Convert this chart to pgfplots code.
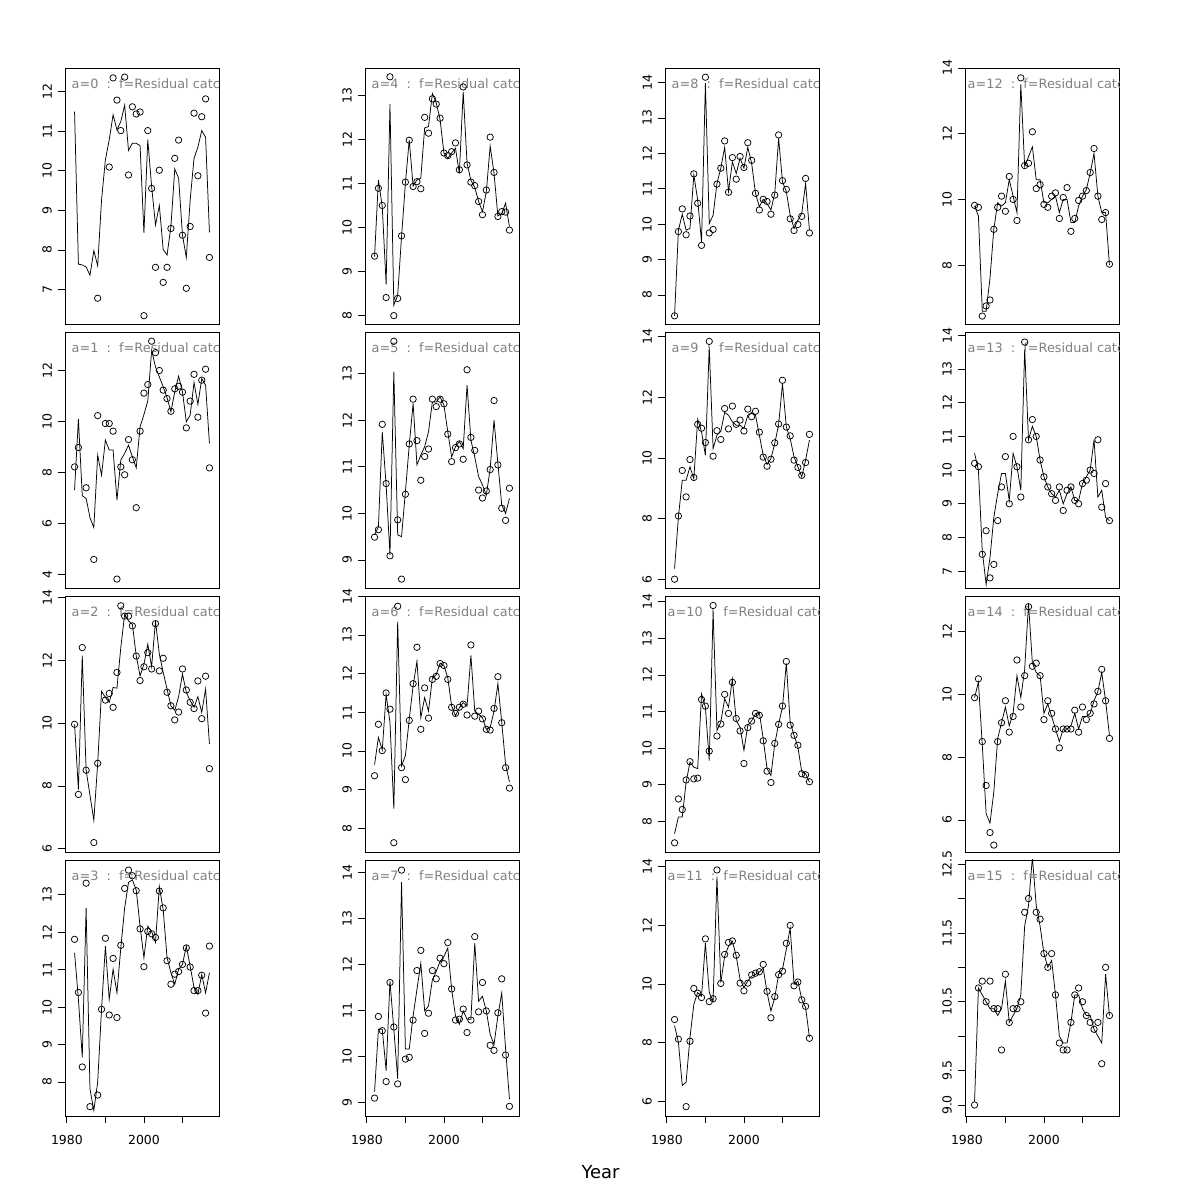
\documentclass[border=0pt]{standalone}
\usepackage{fontspec}
\setmainfont{DejaVu Sans}
\usepackage{pgfplots}
\pgfplotsset{compat=1.18}
\usepackage{pgfplotstable}

\pgfplotstableread{
year l0 l1 l2 l3 l4 l5 l6 l7 l8 l9 l10 l11 l12 l13 l14 l15
1982 11.49 7.30 9.96 11.45 9.34 9.54 9.65 9.23 7.41 6.36 7.66 8.58 9.80 10.5 9.9 9.05
1983 7.64 10.08 7.88 10.21 11.08 9.71 10.35 10.59 9.83 8.06 8.12 8.01 9.50 10.0 10.4 10.7
1984 7.62 7.08 12.14 8.66 10.47 11.75 10.03 10.59 10.28 9.27 8.12 6.54 6.60 7.6 8.4 10.6
1985 7.57 6.97 8.50 12.65 8.71 10.61 11.46 9.69 9.83 9.27 9.07 6.66 6.60 6.6 6.2 10.5
1986 7.36 6.22 7.70 7.81 12.80 9.11 10.74 11.64 9.88 9.71 9.62 8.18 7.60 7.4 5.9 10.4
1987 7.98 5.83 6.91 7.24 8.24 13.04 8.51 10.59 11.39 9.32 9.48 9.31 9.10 8.6 6.9 10.4
1988 7.60 8.67 8.71 7.99 8.46 9.54 13.34 9.51 10.68 11.28 9.44 9.71 9.90 9.3 8.6 10.3
1989 9.26 7.89 11.01 9.94 9.79 9.50 9.62 13.80 9.50 10.86 11.48 9.59 9.80 9.9 9.1 10.4
1990 10.27 9.26 10.82 11.63 11.00 10.46 9.88 10.16 13.98 10.09 11.12 11.40 9.90 9.9 9.6 10.8
1991 10.78 8.87 10.66 10.21 11.99 11.46 10.82 10.16 10.02 13.66 9.66 9.71 10.60 9.1 9.0 10.2
1992 11.41 8.87 11.13 11.01 10.94 12.36 11.68 10.88 10.25 10.31 13.75 9.42 10.10 10.5 9.4 10.3
1993 11.03 6.91 11.11 10.38 11.08 11.04 12.32 11.46 11.15 10.75 10.48 13.66 9.60 10.1 10.6 10.4
1994 11.24 8.48 12.40 11.58 11.12 11.25 10.86 12.03 11.58 10.88 10.71 10.05 13.50 9.4 9.9 10.6
1995 11.65 8.74 13.46 12.65 12.26 11.43 11.38 10.99 12.17 11.50 11.35 10.95 11.00 13.6 10.8 11.6
1996 10.51 9.06 13.25 13.33 12.29 11.75 11.03 11.10 10.92 11.41 11.12 11.29 11.30 10.9 12.9 11.9
1997 10.69 8.61 13.14 13.40 13.04 12.39 11.89 11.67 11.76 11.19 11.89 11.46 11.60 11.3 11.0 12.6
1998 10.69 8.17 12.14 13.13 12.83 12.39 11.97 11.85 11.43 11.08 10.75 10.95 10.60 11.0 10.7 11.9
1999 10.63 9.78 11.50 12.16 12.45 12.50 12.27 12.07 11.86 11.08 10.57 10.16 10.60 10.3 10.6 11.6
2000 8.43 10.26 11.87 11.32 11.69 12.32 12.21 12.18 11.58 10.97 9.94 9.88 9.90 9.8 9.4 11.2
2001 10.78 10.79 12.51 12.16 11.57 11.75 11.89 12.36 12.17 11.41 10.62 10.10 9.90 9.5 9.7 11.0
2002 9.60 12.78 11.79 12.02 11.69 11.21 11.16 11.46 11.72 11.50 10.75 10.27 10.00 9.3 9.3 11.1
2003 8.63 12.13 13.25 11.73 11.80 11.43 10.91 10.88 10.87 11.41 10.94 10.33 10.10 9.2 8.9 10.6
2004 9.12 11.74 12.19 13.22 11.23 11.54 11.12 10.70 10.49 10.75 10.98 10.41 9.60 9.4 8.5 10.0
2005 8.01 11.35 11.61 12.60 13.08 11.39 11.25 10.99 10.70 10.09 10.25 10.55 10.00 9.0 8.9 9.9
2006 7.87 10.92 11.08 11.32 11.46 12.75 11.16 10.81 10.58 9.79 9.44 9.71 10.00 9.3 8.9 9.9
2007 8.59 10.37 10.55 10.92 11.07 11.57 12.47 10.81 10.40 9.98 9.25 9.08 9.30 9.5 9.0 10.2
2008 10.04 11.15 10.40 10.61 10.91 11.21 11.03 12.47 10.87 10.48 10.12 9.54 9.30 9.1 9.4 10.6
2009 9.81 11.77 10.84 11.01 10.59 10.79 10.95 11.20 12.42 11.10 10.66 10.33 9.80 9.1 8.9 10.6
2010 8.37 11.15 11.56 11.14 10.36 10.61 10.86 11.31 11.20 12.45 11.12 10.50 10.10 9.6 9.3 10.4
2011 7.81 9.98 10.98 11.63 10.81 10.39 10.56 10.99 10.92 11.02 12.32 11.18 10.30 9.8 9.3 10.3
2012 9.26 10.24 10.71 11.09 11.85 10.96 10.61 10.48 10.25 10.64 10.71 11.91 10.80 10.0 9.4 10.3
2013 10.31 11.52 10.50 10.52 11.23 12.00 11.03 10.26 9.88 10.04 10.35 9.99 11.40 10.9 9.8 10.1
2014 10.59 10.66 10.84 10.34 10.26 11.07 11.74 10.88 10.11 9.71 10.03 10.10 10.10 9.2 10.1 10.0
2015 11.01 11.67 10.34 10.87 10.32 10.18 10.74 11.38 10.30 9.38 9.35 9.48 9.60 9.4 10.7 9.9
2016 10.84 11.41 11.08 10.38 10.55 10.00 9.65 10.16 11.15 9.93 9.30 9.20 9.60 8.6 9.8 10.9
2017 8.44 9.13 9.34 10.92 10.02 10.32 9.20 9.07 9.83 10.59 9.07 8.18 8.00 8.5 8.7 10.3
}\fitted

\pgfplotstableread{
year p0 p1 p2 p3 p4 p5 p6 p7 p8 p9 p10 p11 p12 p13 p14 p15
1982 nan 8.21 9.96 11.81 9.35 9.49 9.36 9.09 7.41 6.01 7.41 8.79 9.82 10.2 9.9 9.0
1983 nan 8.97 7.73 10.39 10.89 9.65 10.69 10.87 9.79 8.09 8.61 8.12 9.76 10.1 10.5 10.7
1984 nan nan 12.40 8.40 10.50 11.91 10.01 10.56 10.43 9.59 8.32 nan 6.45 7.5 8.5 10.8
1985 nan 7.39 8.50 13.31 8.41 10.64 11.50 9.45 9.70 8.72 9.13 5.82 6.76 8.2 7.1 10.5
1986 nan nan nan 7.34 13.42 9.09 11.08 11.61 10.23 9.95 9.63 8.05 6.94 6.8 5.6 10.8
1987 nan 4.58 6.20 nan 8.00 13.69 7.63 10.64 11.42 9.36 9.16 9.85 9.09 7.2 5.2 10.4
1988 6.78 10.22 8.72 7.65 8.39 9.86 13.74 9.40 10.59 11.11 9.18 9.69 9.76 8.5 8.5 10.4
1989 nan nan nan 9.94 9.81 8.59 9.57 14.06 9.40 10.98 11.33 9.54 10.10 9.5 9.1 9.8
1990 nan 9.91 10.73 11.84 11.03 10.41 9.26 9.94 14.15 10.51 11.15 11.54 9.64 10.4 9.8 10.9
1991 10.09 9.91 10.94 9.79 11.98 11.49 10.79 9.98 9.75 13.84 9.92 9.40 10.70 9.0 8.8 10.2
1992 12.34 9.61 10.50 11.30 10.93 12.45 11.74 10.79 9.85 10.06 13.90 9.50 10.00 11.0 9.3 10.4
1993 11.78 3.81 11.61 9.72 11.04 11.56 12.68 11.87 11.13 10.90 10.33 13.89 9.36 10.1 11.1 10.4
1994 11.01 8.21 13.73 11.65 10.88 10.71 10.56 12.31 11.58 10.61 10.66 10.02 13.70 9.2 9.6 10.5
1995 12.36 7.90 13.40 13.17 12.50 11.22 11.63 10.50 12.35 11.63 11.47 11.01 11.03 13.8 10.6 11.8
1996 9.89 9.28 13.40 13.66 12.14 11.38 10.85 10.94 10.90 10.96 10.95 11.42 11.10 10.9 12.8 12.0
1997 11.61 8.49 13.09 13.51 12.92 12.45 11.85 11.87 11.88 11.71 11.80 11.47 12.06 11.5 10.9 12.6
1998 11.43 6.61 12.13 13.11 12.80 12.29 11.93 11.69 11.27 11.11 10.81 10.98 10.33 11.0 11.0 11.8
1999 11.48 9.61 11.35 12.09 12.48 12.45 12.26 12.14 11.91 11.25 10.47 10.03 10.45 10.3 10.6 11.7
2000 6.34 11.10 11.79 11.08 11.69 12.35 12.21 12.02 11.60 10.89 9.58 9.77 9.85 9.8 9.2 11.2
2001 11.01 11.44 12.24 12.02 11.63 11.70 11.85 12.48 12.30 11.61 10.56 10.03 9.76 9.5 9.8 11.0
2002 9.55 13.14 11.72 11.96 11.72 11.11 11.13 11.47 11.80 11.36 10.74 10.31 10.10 9.3 9.4 11.2
2003 7.56 12.69 13.16 11.86 11.92 11.41 10.97 10.79 10.87 11.54 10.95 10.37 10.20 9.1 8.9 10.6
2004 10.01 11.99 11.66 13.10 11.31 11.49 11.13 10.81 10.40 10.85 10.90 10.42 9.42 9.5 8.3 9.9
2005 7.18 11.22 12.06 12.65 13.19 11.16 11.21 11.03 10.70 10.03 10.20 10.67 10.06 8.8 8.9 9.8
2006 7.56 10.89 10.98 11.24 11.42 13.08 10.93 10.52 10.64 9.73 9.37 9.75 10.36 9.4 8.9 9.8
2007 8.54 10.39 10.55 10.61 11.03 11.63 12.74 10.79 10.28 9.96 9.06 8.85 9.03 9.5 8.9 10.2
2008 10.31 11.27 10.10 10.88 10.95 11.35 10.90 12.61 10.82 10.50 10.13 9.57 9.42 9.1 9.5 10.6
2009 10.77 11.37 10.35 10.95 10.59 10.50 11.03 10.97 12.52 11.12 10.65 10.32 9.97 9.0 8.8 10.7
2010 8.37 11.14 11.72 11.14 10.29 10.33 10.83 11.61 11.23 12.56 11.15 10.44 10.10 9.6 9.6 10.5
2011 7.03 9.74 11.05 11.58 10.85 10.48 10.56 10.99 10.98 11.02 12.37 11.39 10.27 9.7 9.2 10.3
2012 8.59 10.79 10.66 11.07 12.05 10.94 10.54 10.24 10.15 10.73 10.63 12.00 10.82 10.0 9.4 10.2
2013 11.45 11.84 10.46 10.44 11.25 12.42 11.10 10.13 9.82 9.93 10.35 9.94 11.55 9.9 9.7 10.1
2014 9.87 10.16 11.34 10.44 10.25 11.04 11.92 10.95 9.99 9.69 10.08 10.07 10.10 10.9 10.1 10.2
2015 11.36 11.61 10.14 10.85 10.36 10.11 10.73 11.69 10.22 9.43 9.30 9.46 9.39 8.9 10.8 9.6
2016 11.81 12.04 11.49 9.84 10.35 9.85 9.57 10.03 11.29 9.85 9.27 9.24 9.60 9.6 9.8 11.0
2017 7.81 8.17 8.55 11.63 9.94 10.54 9.04 8.91 9.75 10.78 9.08 8.15 8.03 8.5 8.6 10.3
}\observed

\pgfplotsset{
  panel/.style={
    scale only axis, width=154bp, height=256bp, anchor=south west,
    xmin=1979.52, xmax=2019.48,
    axis line style={black, line width=0.75bp},
    every tick/.style={black, line width=0.75bp},
    tick align=outside, major tick length=7bp,
    xtick=\empty, ytick pos=left,
    yticklabel style={xshift=-6bp, rotate=90, anchor=south, inner sep=0pt, font=\fontsize{12.5}{12.5}\selectfont},
    xticklabel style={yshift=-9bp, font=\fontsize{12.5}{12.5}\selectfont},
    /pgf/number format/assume math mode=true,
  },
  bottomrow/.style={xtick={1980,1990,2000,2010}, xticklabels={1980,,2000,}, xtick pos=bottom},
  fitline/.style={black, line width=0.75bp, no marks},
  obspts/.style={black, only marks, mark=o, mark size=3.2bp, mark options={line width=0.75bp}},
}
\newcommand{\panellabel}[2]{%
  \begin{scope}
  \clip (rel axis cs:0,0) rectangle (rel axis cs:1,1);
  \node[anchor=west, inner sep=0pt, text=gray, font=\fontsize{12.9}{12.9}\selectfont, xshift=#2, yshift=-16bp] at (rel axis cs:0,1) {a=#1\ \ :\ \ f=Residual catch};
  \end{scope}}
\newcommand{\panelplots}[1]{%
  \addplot[fitline] table[x=year, y=l#1] {\fitted};
  \addplot[obspts] table[x=year, y=p#1] {\observed};
}

\begin{document}
\begin{tikzpicture}
\path (0bp,0bp) rectangle (1200bp,1200bp);

% column 1
\begin{axis}[panel, at={(65bp,876bp)}, ymin=6.13, ymax=12.59, ytick={7,8,9,10,11,12}]
\panelplots{0}\panellabel{0}{6.5bp}
\end{axis}
\begin{axis}[panel, at={(65bp,612bp)}, ymin=3.46, ymax=13.50, ytick={4,6,8,10,12}]
\panelplots{1}\panellabel{1}{6.5bp}
\end{axis}
\begin{axis}[panel, at={(65bp,348bp)}, ymin=5.90, ymax=14.04, ytick={6,8,10,12,14}]
\panelplots{2}\panellabel{2}{6.5bp}
\end{axis}
\begin{axis}[panel, bottomrow, at={(65bp,84bp)}, ymin=7.09, ymax=13.93, ytick={8,9,10,11,12,13}]
\panelplots{3}\panellabel{3}{6.5bp}
\end{axis}

% column 2
\begin{axis}[panel, at={(365bp,876bp)}, ymin=7.81, ymax=13.62, ytick={8,9,10,11,12,13}]
\panelplots{4}\panellabel{4}{6.5bp}
\end{axis}
\begin{axis}[panel, at={(365bp,612bp)}, ymin=8.40, ymax=13.89, ytick={9,10,11,12,13}]
\panelplots{5}\panellabel{5}{6.5bp}
\end{axis}
\begin{axis}[panel, at={(365bp,348bp)}, ymin=7.39, ymax=14.005, ytick={8,9,10,11,12,13,14}]
\panelplots{6}\panellabel{6}{6.5bp}
\end{axis}
\begin{axis}[panel, bottomrow, at={(365bp,84bp)}, ymin=8.70, ymax=14.28, ytick={9,10,11,12,13,14}]
\panelplots{7}\panellabel{7}{6.5bp}
\end{axis}

% column 3
\begin{axis}[panel, at={(665bp,876bp)}, ymin=7.18, ymax=14.41, ytick={8,9,10,11,12,13,14}]
\panelplots{8}\panellabel{8}{6.5bp}
\end{axis}
\begin{axis}[panel, at={(665bp,612bp)}, ymin=5.72, ymax=14.15, ytick={6,8,10,12,14}]
\panelplots{9}\panellabel{9}{6.5bp}
\end{axis}
\begin{axis}[panel, at={(665bp,348bp)}, ymin=7.16, ymax=14.16, ytick={8,9,10,11,12,13,14}]
\panelplots{10}\panellabel{10}{2.5bp}
\end{axis}
\begin{axis}[panel, bottomrow, at={(665bp,84bp)}, ymin=5.50, ymax=14.23, ytick={6,8,10,12,14}]
\panelplots{11}\panellabel{11}{2.5bp}
\end{axis}

% column 4
\begin{axis}[panel, at={(965bp,876bp)}, ymin=6.21, ymax=14.0, ytick={8,10,12,14}]
\panelplots{12}\panellabel{12}{2.5bp}
\end{axis}
\begin{axis}[panel, at={(965bp,612bp)}, ymin=6.5, ymax=14.1, ytick={7,8,9,10,11,12,13,14}]
\panelplots{13}\panellabel{13}{2.5bp}
\end{axis}
\begin{axis}[panel, at={(965bp,348bp)}, ymin=4.98, ymax=13.14, ytick={6,8,10,12}]
\panelplots{14}\panellabel{14}{2.5bp}
\end{axis}
\begin{axis}[panel, bottomrow, at={(965bp,84bp)}, ymin=8.84, ymax=12.56, ytick={9,9.5,10,10.5,11,11.5,12,12.5}, yticklabels={9.0,9.5,,10.5,,11.5,,12.5}]
\panelplots{15}\panellabel{15}{2.5bp}
\end{axis}

\node[anchor=base, font=\fontsize{18}{18}\selectfont] at (600.5bp,21.5bp) {Year};
\end{tikzpicture}
\end{document}
